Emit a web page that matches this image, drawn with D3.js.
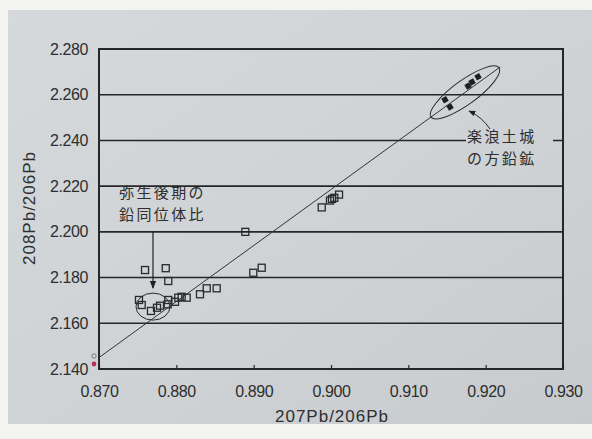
<!DOCTYPE html>
<html>
<head>
<meta charset="utf-8">
<script src="https://cdn.jsdelivr.net/npm/d3@7/dist/d3.min.js"></script>
<style>
  html, body { margin: 0; padding: 0; background: #f2f2f0; }
  svg { display: block; }
  text { font-family: "Liberation Sans", Arial, sans-serif; fill: #2e2e2e; }
  .jp { font-family: "Noto Sans CJK JP", sans-serif; }
</style>
</head>
<body>
<svg id="chart" width="592" height="439"></svg>
<script>
// Axis ticks
const xTicks = [0.870, 0.880, 0.890, 0.900, 0.910, 0.920, 0.930];
const yTicks = [2.140, 2.160, 2.180, 2.200, 2.220, 2.240, 2.260, 2.280];

// Late Yayoi bronze samples (207Pb/206Pb, 208Pb/206Pb)
const yayoiX = [0.87595, 0.87863, 0.87896, 0.87517, 0.87552, 0.87672, 0.87750, 0.87789, 0.87888,
                0.87896, 0.87983, 0.88025, 0.88069, 0.88134, 0.88306, 0.88393, 0.88522,
                0.88892, 0.88995, 0.89104,
                0.89880, 0.89987, 0.90013, 0.90043, 0.90104];
const yayoiY = [2.1833, 2.1841, 2.1785, 2.1702, 2.1680, 2.1654, 2.1668, 2.1677, 2.1683,
                2.1702, 2.1694, 2.1712, 2.1716, 2.1712, 2.1727, 2.1753, 2.1753,
                2.2000, 2.1821, 2.1843,
                2.2107, 2.2137, 2.2144, 2.2149, 2.2163];

// Galena from the Lelang earthwork site
const lelangX = [0.91474, 0.91539, 0.91772, 0.91824, 0.91901];
const lelangY = [2.2578, 2.2546, 2.2638, 2.2656, 2.2679];

// Mixing line endpoints
const lineX = [0.8700, 0.9219];
const lineY = [2.1450, 2.2722];

const svg = d3.select("#chart");
const W = 592, H = 439;

// photographed page
const defs = svg.append("defs");
const grad = defs.append("linearGradient").attr("id", "paper")
  .attr("x1", "0").attr("y1", "0").attr("x2", "1").attr("y2", "1");
grad.append("stop").attr("offset", "0").attr("stop-color", "#d5d9dc");
grad.append("stop").attr("offset", "0.6").attr("stop-color", "#ced2d5");
grad.append("stop").attr("offset", "1").attr("stop-color", "#c7cbce");
svg.append("rect").attr("x", 0).attr("y", 0).attr("width", W).attr("height", H).attr("fill", "#f3f3f1");
svg.append("rect").attr("x", 8).attr("y", 10).attr("width", W - 8).attr("height", 414).attr("fill", "url(#paper)");

const x = d3.scaleLinear().domain([0.870, 0.930]).range([99, 563]);
const y = d3.scaleLinear().domain([2.140, 2.280]).range([369, 49]);

const ink = "#262626";

// horizontal grid lines
svg.append("g").selectAll("line").data(yTicks.slice(1, -1)).join("line")
  .attr("x1", x(0.870)).attr("x2", x(0.930))
  .attr("y1", d => y(d)).attr("y2", d => y(d))
  .attr("stroke", ink).attr("stroke-width", 1.6);

// x axis with inward ticks
const xAxis = d3.axisBottom(x).tickValues(xTicks).tickSize(-4).tickPadding(17)
  .tickFormat(d3.format(".3f"));
const gx = svg.append("g").attr("transform", `translate(0,${y(2.140)})`).call(xAxis);
gx.select(".domain").remove();
gx.selectAll(".tick line").attr("stroke", ink).attr("stroke-width", 1.2);
gx.selectAll(".tick text").attr("font-size", 16).attr("fill", "#333")
  .style("letter-spacing", "-0.4px");

// y axis labels
const yAxis = d3.axisLeft(y).tickValues(yTicks).tickSize(0).tickPadding(11)
  .tickFormat(d3.format(".3f"));
const gy = svg.append("g").attr("transform", `translate(${x(0.870)},0)`).call(yAxis);
gy.select(".domain").remove();
gy.selectAll(".tick text").attr("font-size", 16).attr("fill", "#333")
  .style("letter-spacing", "-0.4px");

// plot frame
svg.append("rect")
  .attr("x", x(0.870)).attr("y", y(2.280))
  .attr("width", x(0.930) - x(0.870)).attr("height", y(2.140) - y(2.280))
  .attr("fill", "none").attr("stroke", ink).attr("stroke-width", 2);

// axis titles
svg.append("text").attr("x", 332).attr("y", 422).attr("text-anchor", "middle")
  .attr("font-size", 17).style("letter-spacing", "1px").attr("fill", "#333")
  .text("207Pb/206Pb");
svg.append("text").attr("transform", "translate(35,208) rotate(-90)")
  .attr("text-anchor", "middle").attr("font-size", 17).style("letter-spacing", "1px")
  .attr("fill", "#333").text("208Pb/206Pb");

// mixing line
svg.append("line")
  .attr("x1", x(lineX[0])).attr("y1", y(lineY[0]))
  .attr("x2", x(lineX[1])).attr("y2", y(lineY[1]))
  .attr("stroke", "#333").attr("stroke-width", 1);

// Yayoi samples as open squares
const yayoi = yayoiX.map((v, i) => [v, yayoiY[i]]);
const sq = 7;
svg.append("g").selectAll("rect").data(yayoi).join("rect")
  .attr("x", d => x(d[0]) - sq / 2).attr("y", d => y(d[1]) - sq / 2)
  .attr("width", sq).attr("height", sq)
  .attr("fill", "none").attr("stroke", "#2a2a2a").attr("stroke-width", 1.3);

// Lelang galena as filled marks
const lelang = lelangX.map((v, i) => [v, lelangY[i]]);
svg.append("g").selectAll("path").data(lelang).join("path")
  .attr("transform", d => `translate(${x(d[0])},${y(d[1])}) rotate(-30)`)
  .attr("d", d3.symbol().type(d3.symbolSquare).size(30))
  .attr("fill", "#1e1e1e");

// ellipse around the Yayoi group
const yayoiCenter = [0.87698, 2.1673];
svg.append("ellipse")
  .attr("cx", x(yayoiCenter[0])).attr("cy", y(yayoiCenter[1]))
  .attr("rx", 17).attr("ry", 13.5)
  .attr("fill", "none").attr("stroke", "#2a2a2a").attr("stroke-width", 1);

// ellipse around the Lelang galena
const lelangCenter = [0.91733, 2.2610];
svg.append("ellipse")
  .attr("transform", `translate(${x(lelangCenter[0])},${y(lelangCenter[1])}) rotate(-36)`)
  .attr("rx", 42).attr("ry", 12)
  .attr("fill", "none").attr("stroke", "#2a2a2a").attr("stroke-width", 1);

// arrow heads
defs.append("marker").attr("id", "head").attr("viewBox", "0 0 10 10")
  .attr("refX", 9).attr("refY", 5).attr("markerWidth", 7).attr("markerHeight", 7)
  .attr("orient", "auto-start-reverse")
  .append("path").attr("d", "M0,1 L10,5 L0,9 Z").attr("fill", "#222");

// two-line label
function label(x0, y0, lines, spacing) {
  lines.forEach((s, i) => {
    svg.append("text").attr("class", "jp").attr("x", x0).attr("y", y0 + i * 22)
      .attr("font-size", 15).style("letter-spacing", spacing + "px")
      .attr("fill", "#2a2a2a").text(s);
  });
}

// Yayoi annotation
const yayoiArrowX = 0.87698;
svg.append("line")
  .attr("x1", x(yayoiArrowX)).attr("y1", y(2.200))
  .attr("x2", x(yayoiArrowX)).attr("y2", y(2.1754))
  .attr("stroke", "#222").attr("stroke-width", 1.2)
  .attr("marker-end", "url(#head)");
label(119, 198, ["弥生後期の", "鉛同位体比"], 2.4);

// Lelang annotation, masking the grid line behind it
svg.append("rect").attr("x", 466).attr("y", 132).attr("width", 87).attr("height", 14)
  .attr("fill", "#ced2d5");
label(467, 142, ["楽浪土城", "の方鉛鉱"], 2.4);
svg.append("path")
  .attr("d", "M490,129 Q482,117 469,111")
  .attr("fill", "none").attr("stroke", "#222").attr("stroke-width", 1)
  .attr("marker-end", "url(#head)");

// pen marks near the origin
svg.append("circle").attr("cx", 94).attr("cy", 356).attr("r", 2.2)
  .attr("fill", "none").attr("stroke", "#666").attr("stroke-width", 0.8);
svg.append("circle").attr("cx", 94).attr("cy", 364).attr("r", 2.4).attr("fill", "#b8305a");
</script>
</body>
</html>
